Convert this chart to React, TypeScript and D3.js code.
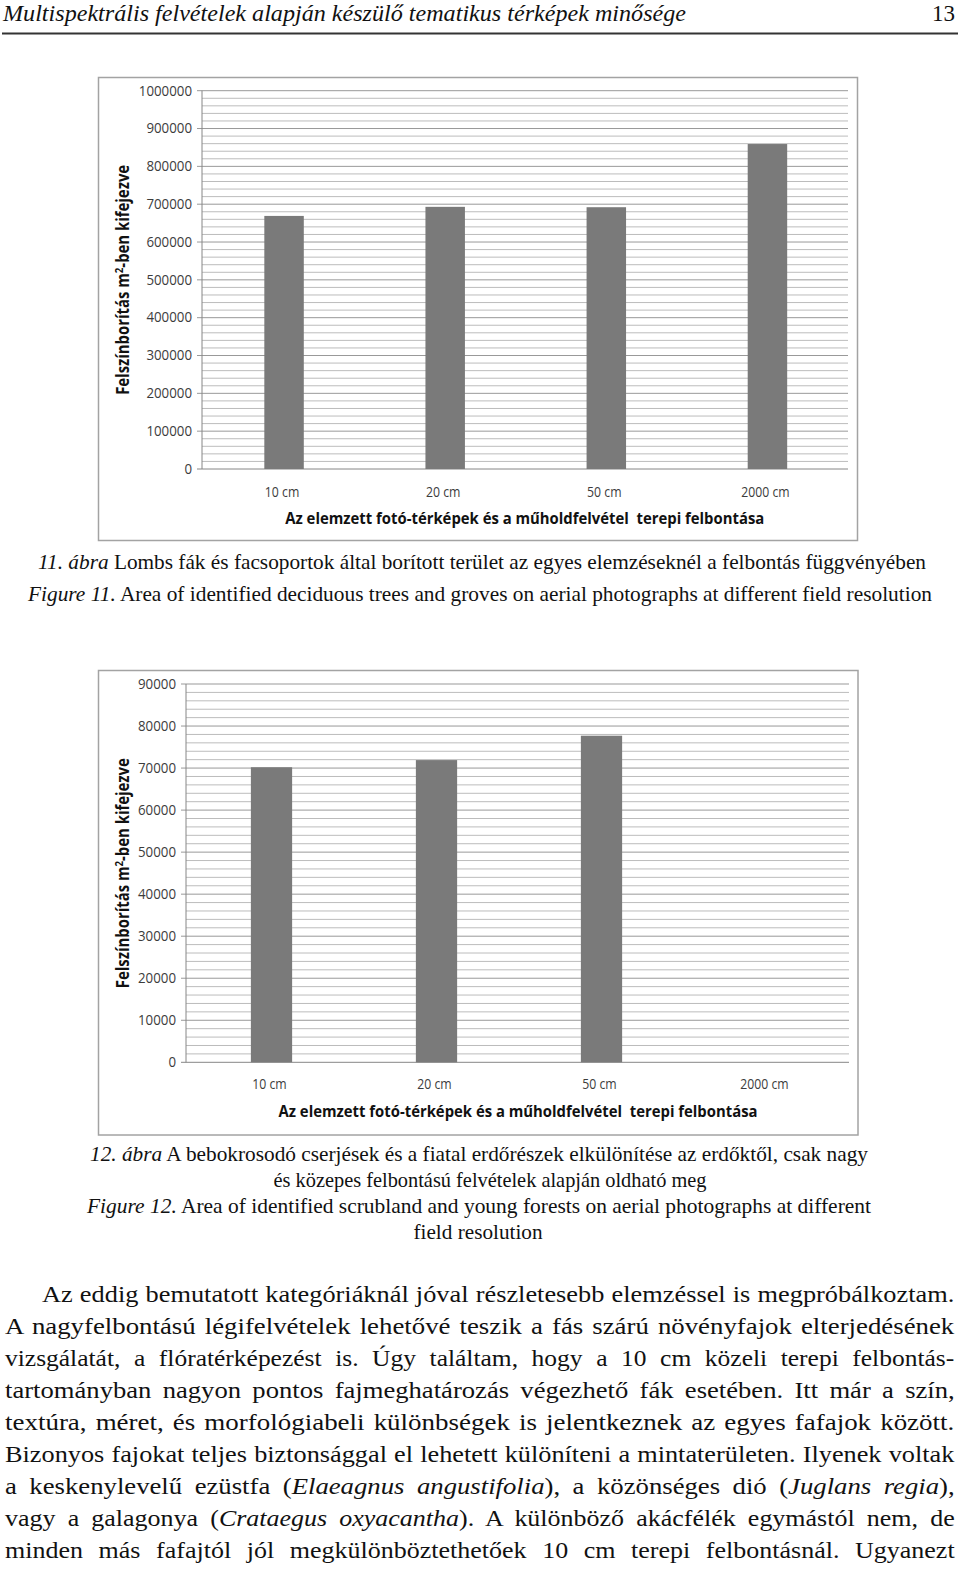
import React, { useLayoutEffect, useRef } from 'react';
import * as d3 from 'd3';

// ---------- data ----------
const categories = ['10 cm', '20 cm', '50 cm', '2000 cm'];
const deciduousArea = [669000, 693000, 692000, 859000];
const scrubArea = [70200, 71900, 77700, 0];
const chart1Ticks = [0, 100000, 200000, 300000, 400000, 500000, 600000, 700000, 800000, 900000, 1000000];
const chart2Ticks = [0, 10000, 20000, 30000, 40000, 50000, 60000, 70000, 80000, 90000];
const chart1TickLabels = chart1Ticks.map(String);
const chart2TickLabels = chart2Ticks.map(String);
const xTitle = 'Az elemzett fotó-térképek és a műholdfelvétel  terepi felbontása';
const yTitleA = 'Felszínborítás m';
const yTitleSup = '2';
const yTitleB = '-ben kifejezve';

type Seg = { t: string; i?: boolean };

const headerText = 'Multispektrális felvételek alapján készülő tematikus térképek minősége';
const pageNumber = '13';

const caption1: Seg[][] = [
  [{ t: '11. ábra', i: true }, { t: ' Lombs fák és facsoportok által borított terület az egyes elemzéseknél a felbontás függvényében' }],
  [{ t: 'Figure 11.', i: true }, { t: ' Area of identified deciduous trees and groves on aerial photographs at different field resolution' }],
];
const caption2: Seg[][] = [
  [{ t: '12. ábra', i: true }, { t: ' A bebokrosodó cserjések és a fiatal erdőrészek elkülönítése az erdőktől, csak nagy' }],
  [{ t: 'és közepes felbontású felvételek alapján oldható meg' }],
  [{ t: 'Figure 12.', i: true }, { t: ' Area of identified scrubland and young forests on aerial photographs at different' }],
  [{ t: 'field resolution' }],
];
const bodyLines: Seg[][] = [
  [{ t: 'Az eddig bemutatott kategóriáknál jóval részletesebb elemzéssel is megpróbálkoztam.' }],
  [{ t: 'A nagyfelbontású légifelvételek lehetővé teszik a fás szárú növényfajok elterjedésének' }],
  [{ t: 'vizsgálatát, a flóratérképezést is. Úgy találtam, hogy a 10 cm közeli terepi felbontás-' }],
  [{ t: 'tartományban nagyon pontos fajmeghatározás végezhető fák esetében. Itt már a szín,' }],
  [{ t: 'textúra, méret, és morfológiabeli különbségek is jelentkeznek az egyes fafajok között.' }],
  [{ t: 'Bizonyos fajokat teljes biztonsággal el lehetett különíteni a mintaterületen. Ilyenek voltak' }],
  [{ t: 'a keskenylevelű ezüstfa (' }, { t: 'Elaeagnus angustifolia', i: true }, { t: '), a közönséges dió (' }, { t: 'Juglans regia', i: true }, { t: '),' }],
  [{ t: 'vagy a galagonya (' }, { t: 'Crataegus oxyacantha', i: true }, { t: '). A különböző akácfélék egymástól nem, de' }],
  [{ t: 'minden más fafajtól jól megkülönböztethetőek 10 cm terepi felbontásnál. Ugyanezt' }],
];

const SERIF = '"Liberation Serif", "Times New Roman", serif';
const SANS = '"Open Sans", "Liberation Sans", sans-serif';

// ---------- text helpers ----------
function Segs({ segs }: { segs: Seg[] }) {
  return (
    <>
      {segs.map((s, k) => (
        <tspan key={k} fontStyle={s.i ? 'italic' : 'normal'}>{s.t}</tspan>
      ))}
    </>
  );
}

function FitLine({ cx, y, width, segs, size }: { cx: number; y: number; width: number; segs: Seg[]; size: number }) {
  return (
    <text x={cx} y={y} textAnchor="middle" textLength={width} lengthAdjust="spacingAndGlyphs" fontFamily={SERIF} fontSize={size} fill="#111" style={{ whiteSpace: 'pre' }}>
      <Segs segs={segs} />
    </text>
  );
}

// Justified body paragraph: each line gets a word gap close to the original's
// and the glyphs are condensed horizontally so the line fills the measure.
const bodyGap = [0.5, 2, 6.5, 4, 2, 0.5, 5, 5, 8];

function Body({ y0, step, size }: { y0: number; step: number; size: number }) {
  const tRefs = useRef<(SVGTextElement | null)[]>([]);
  const gRefs = useRef<(SVGGElement | null)[]>([]);
  const xs = bodyLines.map((_, k) => (k === 0 ? 42 : 5));
  const widths = bodyLines.map((_, k) => (k === 0 ? 913 : 950));
  useLayoutEffect(() => {
    bodyLines.forEach((segs, k) => {
      const el = tRefs.current[k]!;
      el.style.wordSpacing = '0px';
      const w = el.getComputedTextLength();
      const n = (segs.map((s) => s.t).join('').match(/ /g) || []).length;
      const c = widths[k] / (w + n * bodyGap[k]);
      el.style.wordSpacing = bodyGap[k] + 'px';
      gRefs.current[k]!.setAttribute('transform', `translate(${xs[k]},${y0 + k * step}) scale(${c},1)`);
    });
  }, []);
  return (
    <g>
      {bodyLines.map((segs, k) => (
        <g key={k} ref={(el) => { gRefs.current[k] = el; }} transform={`translate(${xs[k]},${y0 + k * step})`}>
          <text ref={(el) => { tRefs.current[k] = el; }} x={0} y={0} fontFamily={SERIF} fontSize={size} fill="#111" style={{ whiteSpace: 'pre' }}>
            <Segs segs={segs} />
          </text>
        </g>
      ))}
    </g>
  );
}

// ---------- chart ----------
type ChartProps = {
  frame: { x: number; y: number; w: number; h: number };
  values: number[];
  ticks: number[];
  tickLabels: string[];
  max: number;
  minor: number;
  axisX: number;
  right: number;
  yZero: number;
  yMax: number;
  band: [number, number];
  barFrac: number;
  catY: number;
  titleY: number;
  yTitleX: number;
};

function BarChart(p: ChartProps) {
  const y = d3.scaleLinear().domain([0, p.max]).range([p.yZero, p.yMax]);
  const pi = 1 - p.barFrac;
  const x = d3.scaleBand<string>().domain(categories).range(p.band).paddingInner(pi).paddingOuter(pi / 2);
  const minorVals = d3.range(p.minor, p.max + p.minor / 2, p.minor).filter((v) => !p.ticks.some((t) => Math.abs(t - v) < 1e-6));
  const plotCx = (p.band[0] + p.band[1]) / 2 - 1;
  const yCenter = (p.yZero + p.yMax) / 2;
  return (
    <g>
      <rect x={p.frame.x} y={p.frame.y} width={p.frame.w} height={p.frame.h} fill="#fff" stroke="#a3a3a3" strokeWidth={1.5} />
      {minorVals.map((v) => (
        <line key={'m' + v} x1={p.axisX} x2={p.right} y1={y(v)} y2={y(v)} stroke="#bcbcbc" strokeWidth={1} />
      ))}
      {p.ticks.map((v) => (
        <line key={'M' + v} x1={p.axisX - 5} x2={p.right} y1={y(v)} y2={y(v)} stroke={v === 0 ? '#868686' : '#999'} strokeWidth={1} />
      ))}
      <line x1={p.axisX} x2={p.axisX} y1={p.yMax} y2={p.yZero} stroke="#868686" strokeWidth={1} />
      {p.ticks.map((v, k) => (
        <text
          key={'t' + v}
          x={p.axisX - 10}
          y={y(v) + 4.8}
          textAnchor="end"
          fontFamily={SANS}
          fontSize={14}
          fill="#3c3c3c"
          textLength={p.tickLabels[k].length * 7.6}
          lengthAdjust="spacingAndGlyphs"
        >
          {p.tickLabels[k]}
        </text>
      ))}
      {categories.map((c, k) =>
        p.values[k] > 0 ? (
          <rect key={c} x={x(c)} y={y(p.values[k])} width={x.bandwidth()} height={p.yZero - y(p.values[k])} fill="#7a7a7a" />
        ) : null
      )}
      {categories.map((c) => (
        <text
          key={'c' + c}
          x={(x(c) as number) + x.bandwidth() / 2 - 2}
          y={p.catY}
          textAnchor="middle"
          fontFamily={SANS}
          fontSize={14}
          fill="#3c3c3c"
          textLength={c.length * 6.9}
          lengthAdjust="spacingAndGlyphs"
          style={{ whiteSpace: 'pre' }}
        >
          {c}
        </text>
      ))}
      <text
        x={plotCx}
        y={p.titleY}
        textAnchor="middle"
        fontFamily={SANS}
        fontWeight="bold"
        fontSize={16.5}
        fill="#111"
        textLength={479}
        lengthAdjust="spacingAndGlyphs"
        style={{ whiteSpace: 'pre' }}
      >
        {xTitle}
      </text>
      <text
        transform={`translate(${p.yTitleX},${yCenter}) rotate(-90)`}
        textAnchor="middle"
        fontFamily={SANS}
        fontWeight="bold"
        fontSize={17}
        fill="#111"
        textLength={230}
        lengthAdjust="spacingAndGlyphs"
      >
        <tspan>{yTitleA}</tspan>
        <tspan dy={-6} fontSize={11}>{yTitleSup}</tspan>
        <tspan dy={6}>{yTitleB}</tspan>
      </text>
    </g>
  );
}

export default function App() {
  return (
    <svg width={960} height={1569} viewBox="0 0 960 1569" style={{ position: 'absolute', left: 0, top: 0, background: '#fff' }}>
      <rect x={0} y={0} width={960} height={1569} fill="#fff" />
      {/* header */}
      <text x={3} y={21} fontFamily={SERIF} fontStyle="italic" fontSize={23} fill="#111" textLength={683} lengthAdjust="spacingAndGlyphs">
        {headerText}
      </text>
      <text x={955} y={21} textAnchor="end" fontFamily={SERIF} fontSize={23} fill="#111">
        {pageNumber}
      </text>
      <line x1={2} x2={958} y1={33.5} y2={33.5} stroke="#333" strokeWidth={2} />

      <BarChart
        frame={{ x: 98.5, y: 77.5, w: 759, h: 463 }}
        values={deciduousArea}
        ticks={chart1Ticks}
        tickLabels={chart1TickLabels}
        max={1000000}
        minor={20000}
        axisX={202}
        right={848}
        yZero={469}
        yMax={90.7}
        band={[203.5, 848]}
        barFrac={0.245}
        catY={497}
        titleY={524}
        yTitleX={129}
      />
      {caption1.map((segs, k) => (
        <FitLine key={k} cx={k === 0 ? 482 : 480} y={569 + k * 32} width={k === 0 ? 888 : 904} segs={segs} size={21} />
      ))}

      <BarChart
        frame={{ x: 98.5, y: 670.5, w: 759.5, h: 464.5 }}
        values={scrubArea}
        ticks={chart2Ticks}
        tickLabels={chart2TickLabels}
        max={90000}
        minor={2000}
        axisX={186}
        right={849}
        yZero={1062.3}
        yMax={684}
        band={[189, 849]}
        barFrac={0.25}
        catY={1089}
        titleY={1117}
        yTitleX={129}
      />
      {caption2.map((segs, k) => (
        <FitLine key={k} cx={[479, 490, 479, 478][k]} y={1161 + k * 26} width={[778, 433, 784, 129][k]} segs={segs} size={21} />
      ))}

      <Body y0={1302} step={32} size={23} />
    </svg>
  );
}
